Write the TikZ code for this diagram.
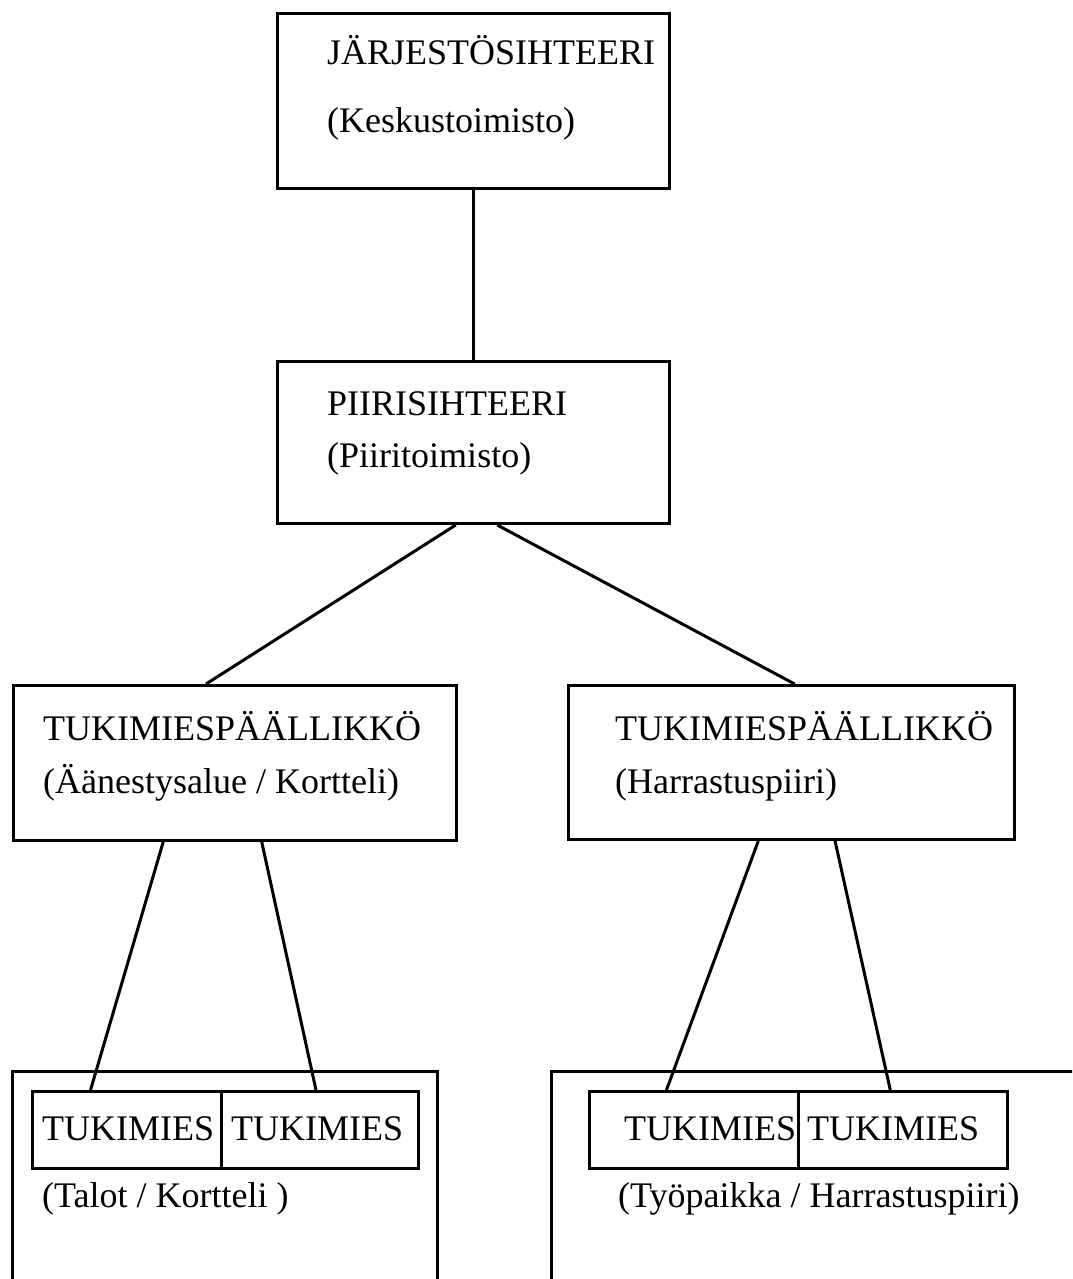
\documentclass[tikz,border=0pt]{standalone}
\usepackage{fontspec}
\setmainfont{Liberation Serif}
\usetikzlibrary{calc}
\begin{document}
\begin{tikzpicture}[x=1pt,y=-1pt,
  box/.style={draw, line width=3pt, anchor=north west, inner sep=0pt},
  lbl/.style={anchor=base west, inner sep=0pt, font=\fontsize{36}{40}\selectfont},
  conn/.style={line width=3pt}]
\useasboundingbox (0,0) rectangle (1072,1279);
\clip (0,0) rectangle (1072,1279);
% top box
\node[box, minimum width=392pt, minimum height=175pt] (top) at (276,12) {};
\node[lbl] (topA) at (327,65) {JÄRJESTÖSIHTEERI};
\node[lbl] (topB) at (327,132) {(Keskustoimisto)};
% district box
\node[box, minimum width=392pt, minimum height=162pt] (mid) at (276,360) {};
\node[lbl] (midA) at (327,415) {PIIRISIHTEERI};
\node[lbl] (midB) at (327,467) {(Piiritoimisto)};
% left chief
\node[box, minimum width=443pt, minimum height=155pt] (lc) at (12,684) {};
\node[lbl] (lcA) at (43,740) {TUKIMIESPÄÄLLIKKÖ};
\node[lbl] (lcB) at (43,793) {(Äänestysalue / Kortteli)};
% right chief
\node[box, minimum width=446pt, minimum height=154pt] (rc) at (567,684) {};
\node[lbl] (rcA) at (615,740) {TUKIMIESPÄÄLLIKKÖ};
\node[lbl] (rcB) at (615,793) {(Harrastuspiiri)};
% bottom outer frames (open at the bottom edge)
\draw[line width=3pt] (12,1300) -- (12,1071) -- (437,1071) -- (437,1300);
\draw[line width=3pt] (551,1300) -- (551,1071) -- (1100,1071);
% left supporters
\node[box, minimum width=189pt, minimum height=77pt] (l1) at (31,1090) {};
\node[box, minimum width=197pt, minimum height=77pt] (l2) at (220,1090) {};
\node[lbl] (l1t) at (42,1140) {TUKIMIES};
\node[lbl] (l2t) at (231,1140) {TUKIMIES};
\node[lbl] (lfoot) at (42,1207) {(Talot / Kortteli )};
% right supporters
\node[box, minimum width=209pt, minimum height=77pt] (r1) at (588,1090) {};
\node[box, minimum width=209pt, minimum height=77pt] (r2) at (797,1090) {};
\node[lbl] (r1t) at (624,1140) {TUKIMIES};
\node[lbl] (r2t) at (807,1140) {TUKIMIES};
\node[lbl] (rfoot) at (618,1207) {(Työpaikka / Harrastuspiiri)};
% connectors
\draw[conn] (top.south) -- (mid.north);
\draw[conn] ($(mid.south west)!0.455!(mid.south east)$) -- ($(lc.north west)!0.435!(lc.north east)$);
\draw[conn] ($(mid.south west)!0.56!(mid.south east)$) -- ($(rc.north west)!0.507!(rc.north east)$);
\draw[conn] ($(lc.south west)!0.339!(lc.south east)$) -- ($(l1.north west)!0.31!(l1.north east)$);
\draw[conn] ($(lc.south west)!0.56!(lc.south east)$) -- ($(l2.north west)!0.48!(l2.north east)$);
\draw[conn] ($(rc.south west)!0.426!(rc.south east)$) -- ($(r1.north west)!0.37!(r1.north east)$);
\draw[conn] ($(rc.south west)!0.597!(rc.south east)$) -- ($(r2.north west)!0.44!(r2.north east)$);
\end{tikzpicture}
\end{document}
